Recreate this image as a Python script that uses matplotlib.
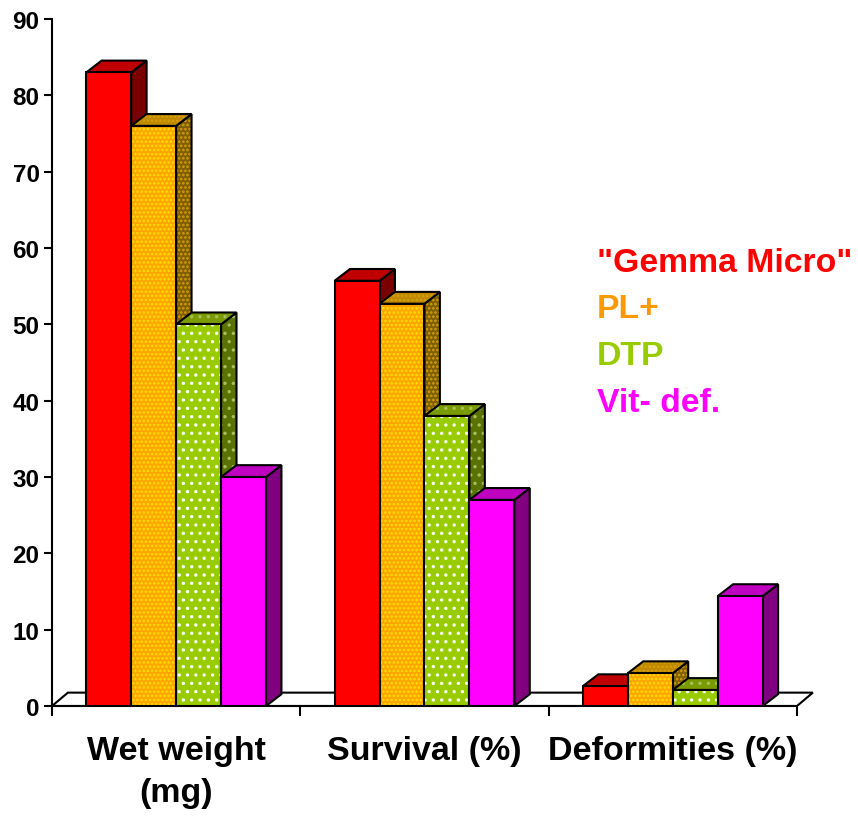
import matplotlib
matplotlib.use("Agg")
import matplotlib.pyplot as plt
from matplotlib.patches import Polygon

# data
categories = ["Wet weight\n(mg)", "Survival (%)", "Deformities (%)"]
series = ['"Gemma Micro"', "PL+", "DTP", "Vit- def."]
gemma = [83, 55.7, 2.6]
pl_plus = [76, 52.7, 4.3]
dtp = [50, 38, 2.1]
vit_def = [30, 27, 14.4]
values = [gemma, pl_plus, dtp, vit_def]

# colours: front, top, side, dots (front), dots (top/side), legend text
front_c = ["#ff0000", "#ffa500", "#99cc00", "#ff00ff"]
top_c = ["#c00000", "#c08a00", "#7a9c00", "#c000c0"]
side_c = ["#7a0000", "#7f5f00", "#5a7300", "#800080"]
dot_c = [None, "#ffe000", "#ffffff", None]
dot_dark = [None, "#d8a000", "#a8c060", None]
hatch = [None, "....", "..", None]
text_c = ["#ff0000", "#ff9900", "#99cc00", "#ff00ff"]

plt.rcParams["font.family"] = ["Liberation Sans", "DejaVu Sans"]
plt.rcParams["hatch.linewidth"] = 1.2

fig = plt.figure(figsize=(8.58, 8.20), dpi=100)
ax = fig.add_axes([52 / 858, 113 / 820, 778 / 858, 687 / 820])
ax.set_xlim(0, 3.133)
ax.set_ylim(0, 90)

bw = 0.181
ddx = 0.062
ddy = 1.55

# floor
fdx, fdy = 0.064, 1.75
ax.add_patch(Polygon([(0, 0), (3, 0), (3 + fdx, fdy), (fdx, fdy)],
                     closed=True, facecolor="white", edgecolor="black",
                     lw=1.5, zorder=1))


def face(pts, fc, dc, h, z):
    if h:
        ax.add_patch(Polygon(pts, closed=True, facecolor=fc, edgecolor=dc,
                             hatch=h, lw=0, zorder=z))
        ax.add_patch(Polygon(pts, closed=True, facecolor="none",
                             edgecolor="black", lw=1.5, zorder=z))
    else:
        ax.add_patch(Polygon(pts, closed=True, facecolor=fc,
                             edgecolor="black", lw=1.5, zorder=z))


z = 2
for ci in range(len(categories)):
    x0 = ci + 0.5 - 2 * bw
    for si in range(len(series)):
        x = x0 + si * bw
        h = values[si][ci]
        side = [(x + bw, 0), (x + bw + ddx, ddy), (x + bw + ddx, h + ddy), (x + bw, h)]
        top = [(x, h), (x + bw, h), (x + bw + ddx, h + ddy), (x + ddx, h + ddy)]
        front = [(x, 0), (x + bw, 0), (x + bw, h), (x, h)]
        face(side, side_c[si], dot_dark[si], hatch[si], z)
        face(top, top_c[si], dot_dark[si], hatch[si], z)
        face(front, front_c[si], dot_c[si], hatch[si], z + 0.5)
        z += 1

# axes styling
for s in ["top", "right"]:
    ax.spines[s].set_visible(False)
ax.spines["left"].set_bounds(0, 90)
ax.spines["bottom"].set_bounds(0, 3)
ax.spines["left"].set_linewidth(1.5)
ax.spines["bottom"].set_linewidth(1.5)
ax.spines["bottom"].set_zorder(1.5)

ax.set_yticks(range(0, 91, 10))
ax.set_yticklabels([str(v) for v in range(0, 91, 10)],
                   fontsize=17.5, fontweight="bold")
ax.tick_params(axis="y", direction="out", length=6, width=1.5, pad=3)
ax.set_xticks([0, 1, 2, 3])
ax.set_xticklabels([])
ax.tick_params(axis="x", direction="out", length=7, width=1.5)

for ci, lab in enumerate(categories):
    ax.annotate(lab, xy=(ci + 0.5, 0), xycoords=("data", "axes fraction"),
                xytext=(0, -21), textcoords="offset points",
                ha="center", va="top", fontsize=24.5, fontweight="bold",
                linespacing=1.45, annotation_clip=False)

# legend as coloured text
for si, name in enumerate(series):
    fig.text(597 / 858, 1 - (263 + si * 47) / 820, name, color=text_c[si],
             fontsize=24.3, fontweight="bold", ha="left", va="center")

fig.savefig("out.png", dpi=100)
